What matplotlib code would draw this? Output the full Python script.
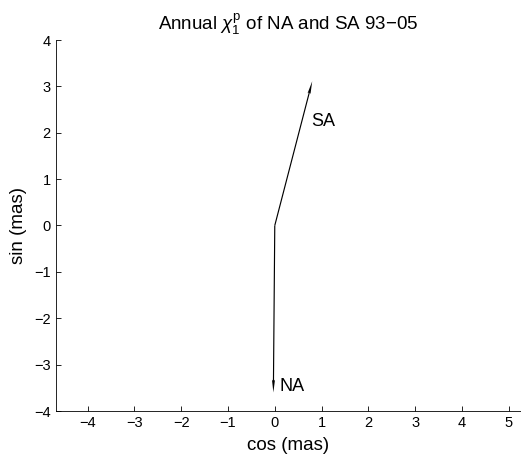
import matplotlib
matplotlib.use("Agg")
import matplotlib.pyplot as plt

plt.rcParams['font.family'] = ['Liberation Sans', 'DejaVu Sans']
plt.rcParams['mathtext.fontset'] = 'custom'
plt.rcParams['mathtext.rm'] = 'Liberation Sans'
plt.rcParams['mathtext.it'] = 'Liberation Sans:italic'

labels = ['NA', 'SA']
cos_vals = [-0.03, 0.80]
sin_vals = [-3.60, 3.11]
label_pos_x = [0.11, 0.78]
label_pos_y = [-3.47, 2.25]
xticks = [-4, -3, -2, -1, 0, 1, 2, 3, 4, 5]
yticks = [-4, -3, -2, -1, 0, 1, 2, 3, 4]

fig = plt.figure(figsize=(5.21, 4.61), dpi=100)
ax = fig.add_axes([55.7/521, 50/461, (521-55.7)/521, (411-40)/461])

ax.quiver([0, 0], [0, 0], cos_vals, sin_vals, angles='xy', scale_units='xy', scale=1,
          color='black', width=0.0025, headwidth=2.6, headlength=11, headaxislength=10)
for lab, x, y in zip(labels, label_pos_x, label_pos_y):
    ax.text(x, y, lab, fontsize=13, ha='left', va='center')

ax.set_xlim(-4.68, 5.26)
ax.set_ylim(-4, 4)
ax.set_xticks(xticks)
ax.set_yticks(yticks)
ax.spines['top'].set_visible(False)
ax.spines['right'].set_visible(False)
ax.tick_params(direction='in', length=3.5, labelsize=10.5, width=0.6)
for s in ['left', 'bottom']:
    ax.spines[s].set_linewidth(0.6)

ax.set_title('Annual $\\chi_1^{\\rm p}$ of NA and SA 93\u221205', fontsize=13.5, pad=7)
ax.set_xlabel('cos (mas)', fontsize=13.5, labelpad=5)
ax.set_ylabel('sin (mas)', fontsize=13.5, labelpad=5)

fig.savefig('out.png', dpi=100)
